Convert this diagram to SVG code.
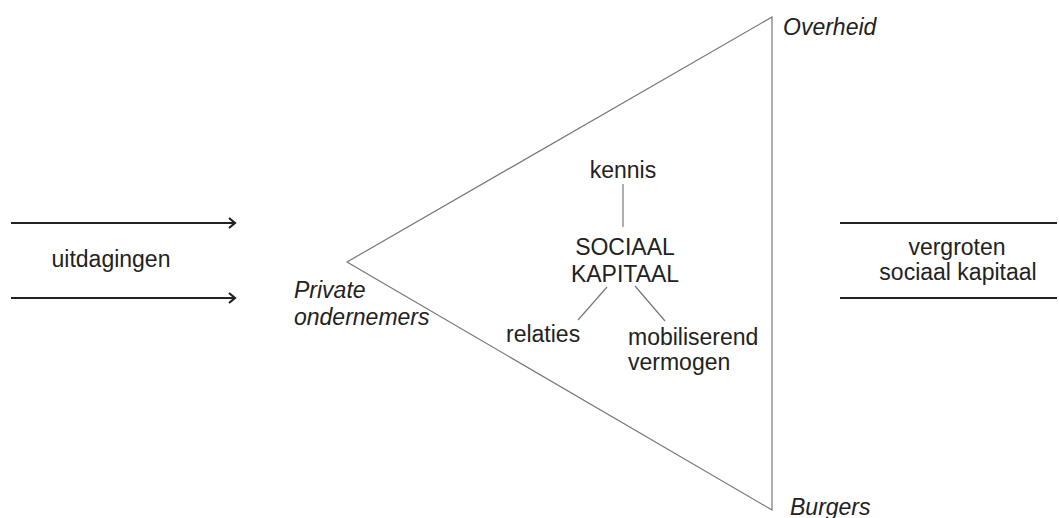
<svg xmlns="http://www.w3.org/2000/svg" width="1059" height="518" viewBox="0 0 1059 518">
<style>
text{font-family:"Liberation Sans",Arial,sans-serif;font-size:23px;fill:#222}
.it{font-style:italic}
.thin{stroke:#777;stroke-width:1.2;fill:none}
.thick{stroke:#222;stroke-width:2.2;fill:none}
</style>
<defs>
<marker id="ah" markerWidth="10" markerHeight="12" refX="8" refY="6" orient="auto" markerUnits="userSpaceOnUse">
<path d="M2,1 L8,6 L2,11" fill="none" stroke="#222" stroke-width="2.2"/>
</marker>
</defs>
<rect width="1059" height="518" fill="#fff"/>
<g id="connectors">
<line class="thick" x1="11" y1="223" x2="235" y2="223" marker-end="url(#ah)"/>
<line class="thick" x1="11" y1="298" x2="235" y2="298" marker-end="url(#ah)"/>
<line class="thick" x1="840" y1="223" x2="1057" y2="223"/>
<line class="thick" x1="840" y1="298" x2="1057" y2="298"/>
<line class="thin" x1="623" y1="184" x2="623" y2="227"/>
<line class="thin" x1="607" y1="287" x2="578" y2="320"/>
<line class="thin" x1="635" y1="286" x2="665" y2="321"/>
</g>
<g id="triangle">
<polygon class="thin" points="772,17 347,262 772,510"/>
</g>
<g id="uitdagingen"><text x="111" y="267" text-anchor="middle">uitdagingen</text></g>
<g id="vergroten"><text x="957" y="255" text-anchor="middle">vergroten</text><text x="958" y="280" text-anchor="middle">sociaal kapitaal</text></g>
<g id="overheid"><text class="it" x="783" y="35">Overheid</text></g>
<g id="burgers"><text class="it" x="790" y="515">Burgers</text></g>
<g id="private"><text class="it" x="294" y="298">Private</text><text class="it" x="294" y="325">ondernemers</text></g>
<g id="kennis"><text x="623" y="178" text-anchor="middle">kennis</text></g>
<g id="sociaal"><text x="625" y="255" text-anchor="middle">SOCIAAL</text><text x="625" y="282" text-anchor="middle">KAPITAAL</text></g>
<g id="relaties"><text x="506" y="342">relaties</text></g>
<g id="mobiliserend"><text x="628" y="345">mobiliserend</text><text x="628" y="370">vermogen</text></g>
</svg>
